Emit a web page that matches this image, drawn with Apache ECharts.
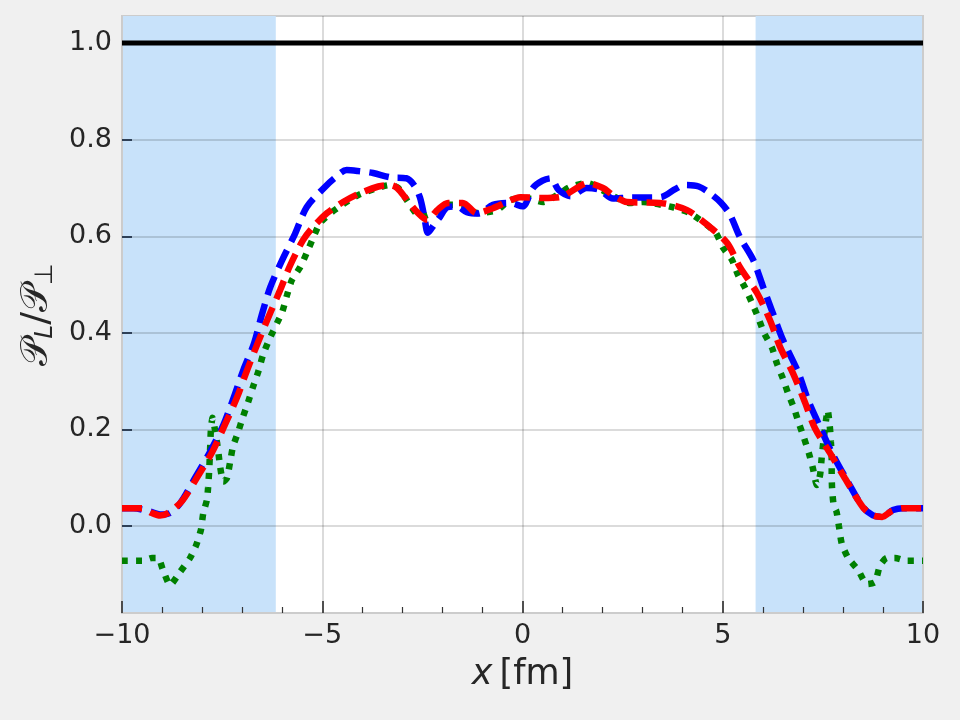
<!DOCTYPE html>
<html>
<head>
<meta charset="utf-8">
<script src="https://cdn.jsdelivr.net/npm/echarts@6/dist/echarts.min.js"></script>
<style>
  html, body { margin: 0; padding: 0; background: #f0f0f0; }
  #main { width: 960px; height: 720px; }
</style>
</head>
<body>
<div id="main"></div>
<script>
// x positions [fm] and P_L/P_perp values
const blueX = [-10, -9.72, -9.3, -9.05, -8.8, -8.55, -8.18, -7.8, -7.47, -7.22, -6.97, -6.7, -6.51, -6.3, -6.01, -5.68, -5.39,
  -4.97, -4.7, -4.39, -4.1, -3.73, -3.3, -2.9, -2.7, -2.56, -2.45, -2.36, -2.2, -2.06, -1.88, -1.64, -1.39, -1.1, -0.74,
  -0.31, 0.0, 0.26, 0.5, 0.7, 0.9, 1.2, 1.6, 1.93, 2.26, 2.7, 3.2, 3.5, 3.8, 4.05, 4.4, 4.68, 4.95, 5.18, 5.43, 5.76,
  6.0, 6.25, 6.5, 6.88, 7.13, 7.43, 7.73, 8.1, 8.5, 8.75, 8.98, 9.25, 9.5, 10];
const blueY = [0.037, 0.037, 0.03, 0.024, 0.027, 0.047, 0.099, 0.154, 0.209, 0.264, 0.323, 0.379, 0.437, 0.494, 0.549, 0.605, 0.66,
  0.699, 0.72, 0.737, 0.735, 0.731, 0.722, 0.72, 0.705, 0.68, 0.64, 0.607, 0.625, 0.64, 0.66, 0.662, 0.65, 0.647, 0.665,
  0.669, 0.662, 0.7, 0.715, 0.72, 0.696, 0.683, 0.7, 0.696, 0.678, 0.68, 0.68, 0.682, 0.697, 0.706, 0.703, 0.689, 0.67, 0.645, 0.598, 0.551,
  0.497, 0.441, 0.386, 0.319, 0.261, 0.205, 0.151, 0.095, 0.039, 0.022, 0.019, 0.033, 0.037, 0.037];

const redX = [-10, -9.5, -9.25, -9.05, -8.85, -8.5, -8.13, -7.75, -7.43, -7.13, -6.88, -6.6, -6.3, -6.05, -5.8, -5.48, -5.23,
  -4.88, -4.48, -4.06, -3.6, -3.3, -3.13, -2.88, -2.63, -2.38, -2.13, -1.86, -1.49, -1.14, -0.74, -0.39, -0.06, 0.5, 0.94,
  1.36, 1.61, 2.01, 2.26, 2.61, 3.43, 4.11, 4.68, 5.11, 5.43, 5.86, 6.18, 6.43, 6.75, 7.05, 7.3, 7.68, 8.05, 8.5, 8.75,
  8.98, 9.2, 9.5, 10];
const redY = [0.037, 0.037, 0.027, 0.022, 0.027, 0.052, 0.1, 0.153, 0.21, 0.266, 0.322, 0.381, 0.441, 0.489, 0.54, 0.592, 0.619,
  0.648, 0.671, 0.689, 0.703, 0.706, 0.7, 0.675, 0.65, 0.634, 0.654, 0.669, 0.669, 0.648, 0.658, 0.671, 0.681, 0.679, 0.681,
  0.7, 0.71, 0.7, 0.685, 0.671, 0.669, 0.654, 0.619, 0.586, 0.536, 0.482, 0.426, 0.371, 0.317, 0.257, 0.203, 0.151, 0.099, 0.039, 0.022,
  0.019, 0.03, 0.037, 0.037];

const greenX = [-10, -9.5, -9.25, -9.1, -8.98, -8.8, -8.55, -8.3, -8.15, -8.03, -7.97, -7.88, -7.85, -7.82, -7.8, -7.78, -7.74,
  -7.68, -7.6, -7.55, -7.47, -7.38, -7.3, -7.23, -7.1, -6.98, -6.85, -6.73, -6.6, -6.48, -6.33, -6.13, -6.0, -5.88, -5.76,
  -5.55, -5.38, -5.23, -5.06, -4.76, -4.11, -3.3, -3.1, -2.81, -2.56, -2.18, -1.86, -1.5, -1.14, -0.64, -0.31, 0.11, 0.51,
  1.19, 1.61, 2.26, 2.68, 3.01, 3.76, 4.18, 4.81, 5.01, 5.23, 5.38, 5.56, 5.73, 5.88, 6.03, 6.23, 6.35, 6.5, 6.63, 6.78,
  6.9, 7.03, 7.15, 7.25, 7.35, 7.43, 7.47, 7.52, 7.58, 7.62, 7.68, 7.7, 7.72, 7.72, 7.73, 7.77, 7.84, 7.9, 7.97, 8.13,
  8.38, 8.6, 8.8, 8.93, 9.1, 9.3, 9.6, 10];
const greenY = [-0.072, -0.072, -0.066, -0.066, -0.09, -0.122, -0.095, -0.066, -0.04, -0.008, 0.027, 0.054, 0.08, 0.12, 0.16, 0.2, 0.224,
  0.2, 0.157, 0.123, 0.092, 0.099, 0.133, 0.164, 0.195, 0.226, 0.257, 0.288, 0.319, 0.354, 0.385, 0.42, 0.443, 0.478, 0.509,
  0.536, 0.567, 0.596, 0.627, 0.65, 0.685, 0.706, 0.7, 0.665, 0.64, 0.65, 0.665, 0.665, 0.648, 0.654, 0.675, 0.679, 0.671,
  0.702, 0.71, 0.683, 0.669, 0.671, 0.66, 0.648, 0.609, 0.576, 0.551, 0.52, 0.493, 0.462, 0.433, 0.4, 0.369, 0.337, 0.306, 0.275, 0.244,
  0.213, 0.182, 0.151, 0.12, 0.085, 0.106, 0.141, 0.18, 0.22, 0.24, 0.2, 0.174, 0.143, 0.109, 0.078, 0.043, 0.03, 0.0, -0.036, -0.066,
  -0.091, -0.12, -0.116, -0.081, -0.066, -0.066, -0.072, -0.072];

const refX = [-10, 10];
const refY = [1.0, 1.0];

const shadeLeft = [-10, -6.16];
const shadeRight = [5.82, 10];
const yTicks = [0.0, 0.2, 0.4, 0.6, 0.8, 1.0];

const pairs = (xs, ys) => xs.map((x, i) => [x, ys[i]]);
const chart = echarts.init(document.getElementById('main'));

const fontFamily = 'DejaVu Sans';

const option = {
  backgroundColor: '#f0f0f0',
  animation: false,
  grid: {
    left: 122, right: 37, top: 16, bottom: 107,
    show: true,
    backgroundColor: '#ffffff',
    borderColor: '#cccccc',
    borderWidth: 2
  },
  xAxis: {
    type: 'value',
    min: -10, max: 10, interval: 5,
    z: 2,
    axisLine: { show: true, onZero: false, lineStyle: { color: '#cccccc', width: 2 } },
    axisTick: { show: true, inside: true, length: 12, lineStyle: { color: '#222222', width: 1.5 } },
    minorTick: { show: true, splitNumber: 5, length: 6, lineStyle: { color: '#333333', width: 1.2 } },
    splitLine: { show: true, lineStyle: { color: 'rgba(0,0,0,0.19)', width: 1.5 } },
    axisLabel: {
      fontFamily, fontSize: 27, color: '#262626', margin: 9,
      formatter: v => String(v).replace('-', '\u2212')
    },
    name: '{i|x}{r|\u2009[fm]}',
    nameLocation: 'middle',
    nameGap: 44,
    nameTextStyle: {
      rich: {
        i: { fontFamily, fontStyle: 'italic', fontSize: 35, color: '#262626' },
        r: { fontFamily, fontSize: 35, color: '#262626' }
      }
    }
  },
  yAxis: [{
    type: 'value',
    min: -0.18, max: 1.056,
    z: 2,
    axisLine: { show: true, onZero: false, lineStyle: { color: '#cccccc', width: 2 } },
    axisTick: { show: true, inside: true, length: 10, customValues: yTicks, lineStyle: { color: '#2e4057', width: 2 } },
    splitLine: { show: true, lineStyle: { color: 'rgba(0,0,0,0.19)', width: 1.5 } },
    axisLabel: {
      fontFamily, fontSize: 27, color: '#262626', margin: 10,
      customValues: yTicks,
      formatter: v => v.toFixed(1)
    },
    name: '{p|\uD835\uDCAB}{s|L}{p|/\uD835\uDCAB}{s|\u22A5}',
    nameLocation: 'middle',
    nameRotate: 90,
    nameGap: 64,
    nameTextStyle: {
      rich: {
        p: { fontFamily, fontSize: 38, color: '#262626' },
        s: { fontFamily, fontStyle: 'italic', fontSize: 25, color: '#262626', padding: [16, 0, 0, 0] }
      }
    }
  }, {
    type: 'value',
    position: 'right',
    min: -0.18, max: 1.056,
    z: 2,
    axisLine: { show: true, onZero: false, lineStyle: { color: '#cccccc', width: 2 } },
    axisTick: { show: false },
    axisLabel: { show: false },
    splitLine: { show: false }
  }],
  series: [
    {
      type: 'line',
      name: 'shade',
      data: [],
      silent: true,
      markArea: {
        silent: true,
        z: 1,
        itemStyle: { color: '#c8e2fa' },
        data: [
          [{ xAxis: shadeLeft[0] }, { xAxis: shadeLeft[1] }],
          [{ xAxis: shadeRight[0] }, { xAxis: shadeRight[1] }]
        ]
      }
    },
    {
      type: 'line', name: 'ref', z: 3,
      data: pairs(refX, refY),
      showSymbol: false,
      lineStyle: { color: '#000000', width: 5 }
    },
    {
      type: 'line', name: 'green', z: 3,
      data: pairs(greenX, greenY),
      showSymbol: false,
      smooth: 0.2,
      lineStyle: { color: '#008000', width: 6.5, type: [6, 8], cap: 'butt' }
    },
    {
      type: 'line', name: 'blue', z: 3,
      data: pairs(blueX, blueY),
      showSymbol: false,
      smooth: 0.3,
      lineStyle: { color: '#0000ff', width: 6.5, type: [20, 9], cap: 'butt' }
    },
    {
      type: 'line', name: 'red', z: 3,
      data: pairs(redX, redY),
      showSymbol: false,
      smooth: 0.3,
      lineStyle: { color: '#ff0000', width: 6.5, type: [20, 9], cap: 'butt' }
    }
  ]
};

chart.setOption(option);
</script>
</body>
</html>
